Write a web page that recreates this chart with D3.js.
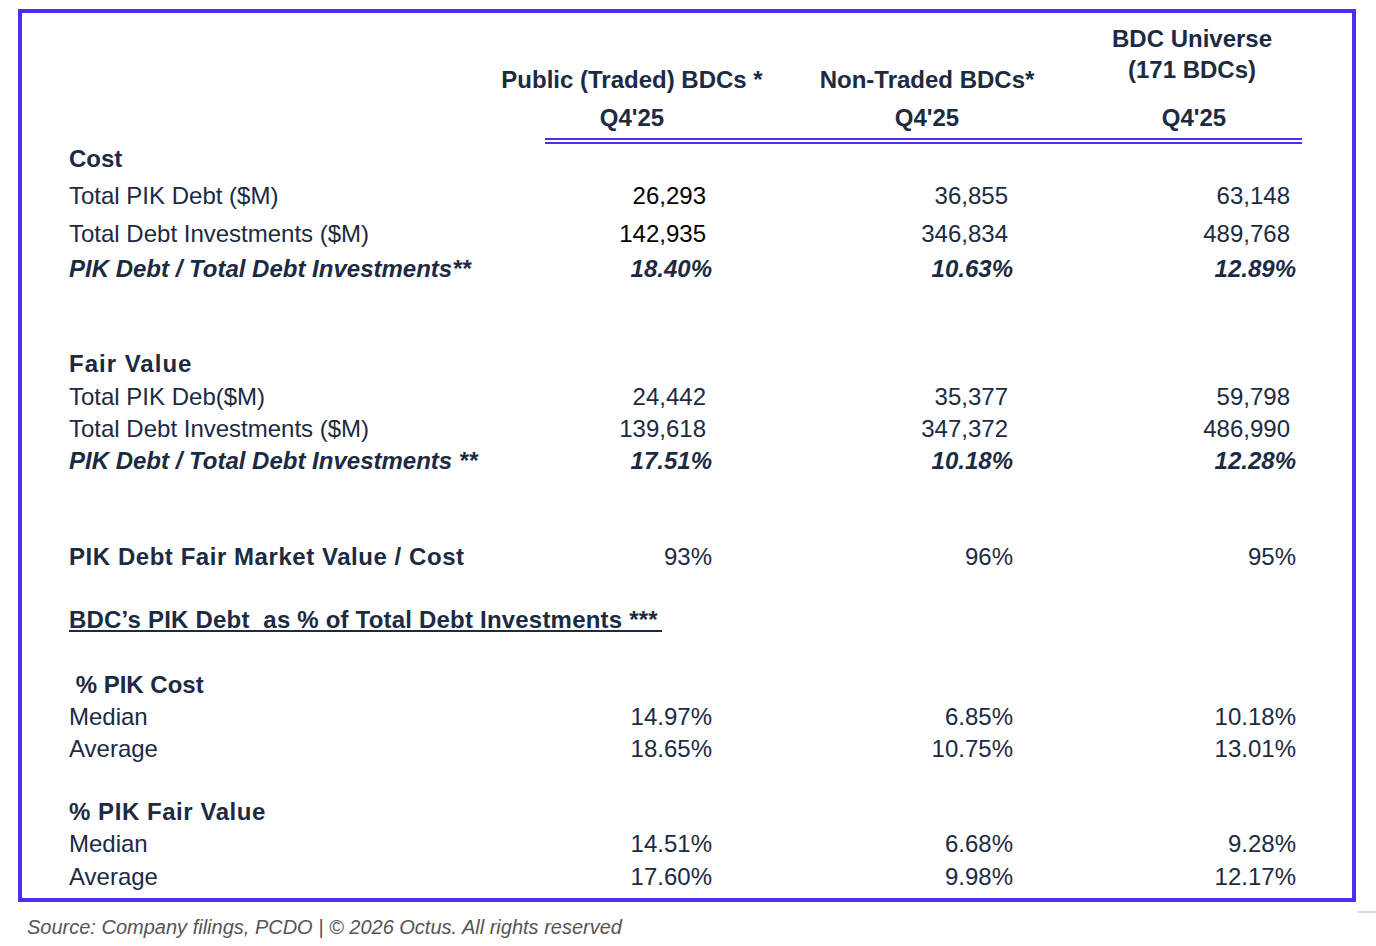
<!DOCTYPE html>
<html>
<head>
<meta charset="utf-8">
<script src="https://cdn.jsdelivr.net/npm/d3@7"></script>
<style>
  body { margin: 0; background: #fff; }
  svg { display: block; font-family: 'Liberation Sans', Arial, sans-serif; }
</style>
</head>
<body>
<div id="table"></div>
<script>
const width = 1376;
const height = 946;

// Data ==============================================================
const columns = ['public', 'nonTraded', 'universe'];
const columnTitles = [['Public (Traded) BDCs *'], ['Non-Traded BDCs*'], ['BDC Universe', '(171 BDCs)']];
const period = "Q4'25";

const costPikDebt = [26293, 36855, 63148];
const costTotalDebt = [142935, 346834, 489768];
const costPikShare = [18.4, 10.63, 12.89];

const fairPikDebt = [24442, 35377, 59798];
const fairTotalDebt = [139618, 347372, 486990];
const fairPikShare = [17.51, 10.18, 12.28];

const fmvToCost = [93, 96, 95];

const pikCostMedian = [14.97, 6.85, 10.18];
const pikCostAverage = [18.65, 10.75, 13.01];
const pikFairMedian = [14.51, 6.68, 9.28];
const pikFairAverage = [17.6, 9.98, 12.17];

const sourceNote = 'Source: Company filings, PCDO | \u00a9 2026 Octus. All rights reserved';

const fmtInt = d3.format(',');
const fmtPct2 = (v) => v.toFixed(2) + '%';
const fmtPct0 = (v) => v + '%';

// rows: key, label, style, values, formatter
const rows = [
	{ key: 'cost', label: 'Cost', style: 'head' },
	{ key: 'cPik', label: 'Total PIK Debt ($M)', style: 'plain', values: costPikDebt, fmt: fmtInt, kind: 'num', firstBlack: true },
	{ key: 'cTot', label: 'Total Debt Investments ($M)', style: 'plain', values: costTotalDebt, fmt: fmtInt, kind: 'num', firstBlack: true },
	{ key: 'cShare', label: 'PIK Debt / Total Debt Investments**', style: 'bi', values: costPikShare, fmt: fmtPct2, kind: 'pct' },
	{ key: 'fair', label: 'Fair Value', style: 'head', spacing: 1 },
	{ key: 'fPik', label: 'Total PIK Deb($M)', style: 'plain', values: fairPikDebt, fmt: fmtInt, kind: 'num' },
	{ key: 'fTot', label: 'Total Debt Investments ($M)', style: 'plain', values: fairTotalDebt, fmt: fmtInt, kind: 'num' },
	{ key: 'fShare', label: 'PIK Debt / Total Debt Investments **', style: 'bi', values: fairPikShare, fmt: fmtPct2, kind: 'pct' },
	{ key: 'fmv', label: 'PIK Debt Fair Market Value / Cost', style: 'head', spacing: 0.55, values: fmvToCost, fmt: fmtPct0, kind: 'pct' },
	{ key: 'asPct', label: 'BDC\u2019s PIK Debt  as % of Total Debt Investments ***', style: 'under', spacing: 0.2 },
	{ key: 'pCost', label: ' % PIK Cost', style: 'head' },
	{ key: 'pcMed', label: 'Median', style: 'plain', values: pikCostMedian, fmt: fmtPct2, kind: 'pct' },
	{ key: 'pcAvg', label: 'Average', style: 'plain', values: pikCostAverage, fmt: fmtPct2, kind: 'pct' },
	{ key: 'pFair', label: '% PIK Fair Value', style: 'head', spacing: 0.55 },
	{ key: 'pfMed', label: 'Median', style: 'plain', values: pikFairMedian, fmt: fmtPct2, kind: 'pct' },
	{ key: 'pfAvg', label: 'Average', style: 'plain', values: pikFairAverage, fmt: fmtPct2, kind: 'pct' },
];
// ================================================================

const navy = '#1c2a42';
const frame = '#4a2ff0';
const fontSize = 24;

// Scales =============================================================
const y = d3
	.scaleOrdinal()
	.domain(rows.map((d) => d.key))
	.range([158, 195, 233, 268, 363, 396, 428, 460, 556, 619, 684, 716, 748, 811, 843, 876]);

const headerX = d3.scaleOrdinal().domain(columns).range([632, 927, 1192]);
const valueX = d3.scaleOrdinal().domain(columns).range([712, 1013, 1296]);
// numbers with thousand separators sit a little left of the percent column edge
const numShift = d3.scaleOrdinal().domain(columns).range([-6, -5, -6]);

const svg = d3.select('#table').append('svg').attr('width', width).attr('height', height);

// Frame
svg.append('rect')
	.attr('x', 20)
	.attr('y', 11)
	.attr('width', 1334)
	.attr('height', 889)
	.attr('fill', 'none')
	.attr('stroke', frame)
	.attr('stroke-width', 4);

svg.append('line')
	.attr('x1', 1357)
	.attr('x2', 1376)
	.attr('y1', 912)
	.attr('y2', 912)
	.attr('stroke', '#dddddd')
	.attr('stroke-width', 2);

// Header ==========================================================
const header = svg.append('g').attr('class', 'header');

columns.forEach((c, i) => {
	const lines = columnTitles[i];
	const ys = lines.length === 1 ? [79] : [38, 69];
	lines.forEach((t, j) => {
		header
			.append('text')
			.attr('x', headerX(c))
			.attr('y', ys[j])
			.attr('dy', '0.36em')
			.attr('text-anchor', 'middle')
			.attr('font-size', fontSize)
			.attr('font-weight', 'bold')
			.attr('fill', navy)
			.text(t);
	});
	header
		.append('text')
		.attr('x', headerX(c) + (i === 2 ? 2 : 0))
		.attr('y', 117)
		.attr('dy', '0.36em')
		.attr('text-anchor', 'middle')
		.attr('font-size', fontSize)
		.attr('font-weight', 'bold')
		.attr('fill', navy)
		.text(period);
});

// double rule under the header
[139, 143].forEach((ly) => {
	header
		.append('line')
		.attr('x1', 545)
		.attr('x2', 1302)
		.attr('y1', ly)
		.attr('y2', ly)
		.attr('stroke', frame)
		.attr('stroke-width', 2);
});

// Body ============================================================
const body = svg.append('g').attr('class', 'body');

const rowG = body
	.selectAll('g.row')
	.data(rows)
	.enter()
	.append('g')
	.attr('class', 'row')
	.attr('transform', (d) => `translate(0, ${y(d.key)})`);

rowG.append('text')
	.attr('x', 69)
	.attr('dy', '0.36em')
	.attr('font-size', fontSize)
	.attr('fill', navy)
	.attr('font-weight', (d) => (d.style === 'plain' ? 'normal' : 'bold'))
	.attr('font-style', (d) => (d.style === 'bi' ? 'italic' : 'normal'))
	.attr('letter-spacing', (d) => (d.spacing ? d.spacing : 0))
	.style('white-space', 'pre')
	.text((d) => d.label);

// underline for the section title
const underRow = rows.find((d) => d.style === 'under');
body.append('line')
	.attr('x1', 69)
	.attr('x2', 662)
	.attr('y1', y(underRow.key) + 12)
	.attr('y2', y(underRow.key) + 12)
	.attr('stroke', navy)
	.attr('stroke-width', 2);

rowG.filter((d) => d.values)
	.selectAll('text.val')
	.data((d) => d.values.map((v, i) => ({ row: d, col: columns[i], v, i })))
	.enter()
	.append('text')
	.attr('class', 'val')
	.attr('x', (d) => valueX(d.col) + (d.row.kind === 'num' ? numShift(d.col) : 0))
	.attr('dy', '0.36em')
	.attr('text-anchor', 'end')
	.attr('font-size', fontSize)
	.attr('fill', (d) => (d.row.firstBlack && d.i === 0 ? '#000000' : navy))
	.attr('font-weight', (d) => (d.row.style === 'bi' ? 'bold' : 'normal'))
	.attr('font-style', (d) => (d.row.style === 'bi' ? 'italic' : 'normal'))
	.text((d) => d.row.fmt(d.v));

// Footer
svg.append('text')
	.attr('x', 27)
	.attr('y', 927)
	.attr('dy', '0.36em')
	.attr('font-size', 20)
	.attr('font-style', 'italic')
	.attr('fill', '#555555')
	.text(sourceNote);
</script>
</body>
</html>
